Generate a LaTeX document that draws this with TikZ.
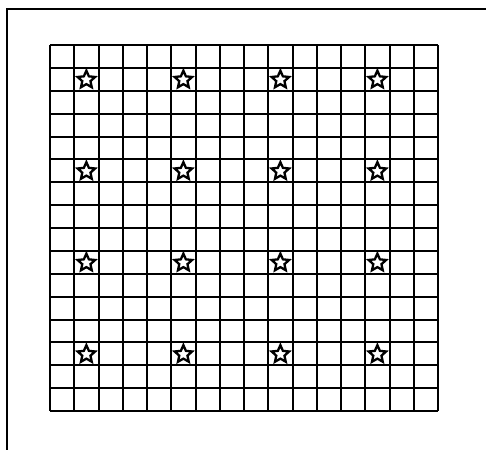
\documentclass[tikz,border=0pt]{standalone}
\begin{document}
\begin{tikzpicture}[x=1pt,y=-1pt,
  gridline/.style={line width=2pt,black},
  frameline/.style={line width=2.2pt,black},
  starshape/.style={line width=2.3pt,black,line join=miter},
  starpic/.pic={\draw[starshape] (270:9.2) -- (306:4.3) -- (342:9.2) -- (18:4.3) -- (54:9.2) -- (90:4.3) -- (126:9.2) -- (162:4.3) -- (198:9.2) -- (234:4.3) -- cycle;}]
\useasboundingbox (0,0) rectangle (486,450);
% open frame: top and left only
\draw[frameline] (486,9) -- (7,9) -- (7,450);
% 16x16 grid
\foreach \i in {0,...,16} {
  \draw[gridline] ({50+\i*24.25},45) -- ({50+\i*24.25},411);
  \draw[gridline] (50,{45+\i*22.875}) -- (438,{45+\i*22.875});
}
% stars
\foreach \c in {1,5,9,13} {
  \foreach \r in {1,5,9,13} {
    \pic at ({50+(\c+0.5)*24.25},{45.5+(\r+0.5)*22.875}) {starpic};
  }
}
\end{tikzpicture}
\end{document}
